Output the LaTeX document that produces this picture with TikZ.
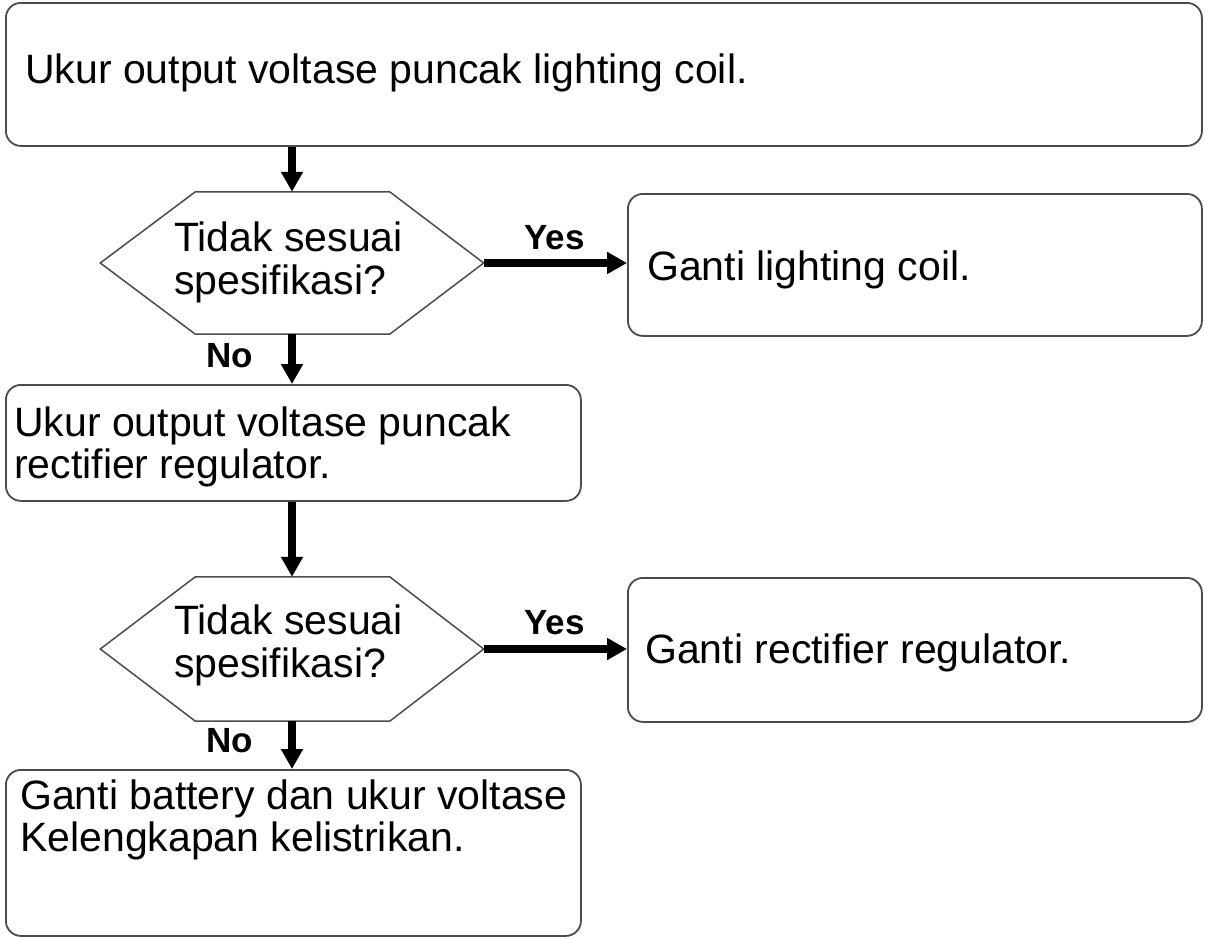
\documentclass[tikz,border=0pt]{standalone}
\usepackage{fontspec}
\setmainfont{Liberation Sans}
\usetikzlibrary{arrows.meta}
\newcommand\drawhexagon[1]{\draw[hexline] (#1.west) -- ([xshift=95pt]#1.north west) -- ([xshift=-94pt]#1.north east) -- (#1.east) -- ([xshift=-94pt]#1.south east) -- ([xshift=95pt]#1.south west) -- cycle;}
\begin{document}
\begin{tikzpicture}[x=1pt,y=-1pt,
 box/.style={draw=black!70, line width=1.8pt, rounded corners=15pt, inner sep=0pt, anchor=north west},
 hexa/.style={inner sep=0pt, minimum width=383pt, minimum height=142pt},
 hexline/.style={draw=black!70, line width=1.5pt, line join=miter},
 txt/.style={font=\fontsize{41}{42}\selectfont, inner sep=0pt, anchor=base west},
 lbl/.style={font=\fontsize{35}{38}\selectfont\bfseries, inner sep=0pt, anchor=base west},
 arr/.style={line width=8pt, -{Triangle[length=20pt,width=21pt]}},
]
\useasboundingbox[fill=white] (0,0) rectangle (1205,937);

% boxes
\node[box, minimum width=1196pt, minimum height=143pt] (b1) at (5,2) {};
\node[box, minimum width=574pt, minimum height=142pt] (b2) at (627,193) {};
\node[box, minimum width=575pt, minimum height=116pt] (b3) at (5,384) {};
\node[box, minimum width=574pt, minimum height=144pt] (b4) at (627,577) {};
\node[box, minimum width=575pt, minimum height=166pt] (b5) at (5,769) {};

% decisions
\node[hexa] (h1) at (292,263) {};
\node[hexa, minimum height=144pt] (h2) at (292,649) {};
\drawhexagon{h1}
\drawhexagon{h2}

% texts
\node[txt] (t1) at (25,83) {Ukur output voltase puncak lighting coil.};
\node[txt] (t2) at (647,280) {Ganti lighting coil.};
\node[txt] (h1a) at (174,251) {Tidak sesuai};
\node[txt] (h1b) at (174,294) {spesifikasi?};
\node[txt] (t3a) at (14,436) {Ukur output voltase puncak};
\node[txt] (t3b) at (14,478) {rectifier regulator.};
\node[txt] (h2a) at (174,634) {Tidak sesuai};
\node[txt] (h2b) at (174,677) {spesifikasi?};
\node[txt] (t4) at (645,663) {Ganti rectifier regulator.};
\node[txt] (t5a) at (20,809) {Ganti battery dan ukur voltase};
\node[txt] (t5b) at (20,851) {Kelengkapan kelistrikan.};

% labels
\node[lbl] (y1) at (524,249) {Yes};
\node[lbl] (n1) at (206,367) {No};
\node[lbl] (y2) at (524,634) {Yes};
\node[lbl] (n2) at (206,752) {No};

% connectors
\draw[arr] (b1.south -| h1.north) -- (h1.north);
\draw[arr] (h1.south) -- (h1.south |- b3.north);
\draw[arr] (b3.south -| h2.north) -- (h2.north);
\draw[arr] (h2.south) -- (h2.south |- b5.north);
\draw[arr] (h1.east) -- (h1.east -| b2.west);
\draw[arr] (h2.east) -- (h2.east -| b4.west);
\end{tikzpicture}
\end{document}
